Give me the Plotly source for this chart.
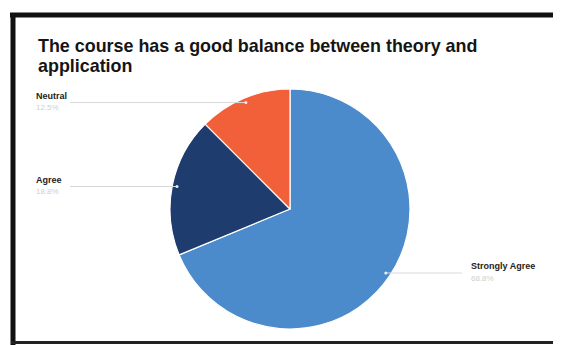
import math
import plotly.graph_objects as go

labels = ["Strongly Agree", "Agree", "Neutral"]
values = [11, 3, 2]
colors = ["#4b8bcb", "#1e3c6e", "#f2603a"]
title_lines = ["The course has a good balance between theory and", "application"]

W, H = 561, 345
OFF = 8  # page body margin offset
cx, cy, R = 290, 209, 120  # pie centre/radius in pixels

def px(x):
    return (x - OFF) / W

def py(y):
    return 1 - (y - OFF) / H

fig = go.Figure(go.Pie(
    labels=labels, values=values, sort=False, direction="clockwise", rotation=0,
    marker=dict(colors=colors, line=dict(color="white", width=1.2)),
    textinfo="none", hoverinfo="label+percent", showlegend=False,
    domain=dict(x=[px(cx - R), px(cx + R)], y=[py(cy + R), py(cy - R)]),
))

total = sum(values)
cum = 0
shapes = []
annotations = []
for lab, v in zip(labels, values):
    mid = (cum + v / 2) / total * 2 * math.pi
    cum += v
    dx = cx + 0.96 * R * math.sin(mid)
    dy = cy - 0.96 * R * math.cos(mid)
    pct = f"{100 * v / total:.1f}%"
    if dx > cx:
        tx, x1 = 469, 462
    else:
        tx, x1 = 34, 70
    shapes.append(dict(type="line", xref="paper", yref="paper",
                       x0=px(dx), x1=px(x1), y0=py(dy), y1=py(dy),
                       line=dict(color="#d8d8d8", width=1)))
    shapes.append(dict(type="circle", xref="paper", yref="paper",
                       x0=px(dx - 1.5), x1=px(dx + 1.5), y0=py(dy - 1.5), y1=py(dy + 1.5),
                       fillcolor="#e8eef5", line=dict(width=0)))
    annotations.append(dict(x=px(tx), y=py(dy - 7), xref="paper", yref="paper",
                            text=f"<b>{lab}</b>", showarrow=False, xanchor="left",
                            yanchor="middle", font=dict(size=9, color="#222",
                                                        family="Liberation Sans, Arial")))
    annotations.append(dict(x=px(tx), y=py(dy + 5), xref="paper", yref="paper",
                            text=pct, showarrow=False, xanchor="left",
                            yanchor="middle", font=dict(size=8, color="#cfcfcf",
                                                        family="Liberation Sans, Arial")))

for i, line in enumerate(title_lines):
    annotations.append(dict(x=px(36), y=py(46 + 20 * i), xref="paper", yref="paper",
                            text=f"<b>{line}</b>", showarrow=False, xanchor="left",
                            yanchor="middle", align="left",
                            font=dict(size=17.9, color="#151515",
                                      family="Liberation Sans, Arial")))

# photographed screen frame
shapes += [
    dict(type="line", xref="paper", yref="paper", x0=px(10), x1=1, y0=py(15), y1=py(15),
         line=dict(color="#111", width=5)),
    dict(type="line", xref="paper", yref="paper", x0=px(13), x1=px(13), y0=py(13), y1=0,
         line=dict(color="#111", width=5)),
    dict(type="line", xref="paper", yref="paper", x0=px(11), x1=1, y0=py(342.5), y1=py(342.5),
         line=dict(color="#222", width=3)),
    dict(type="line", xref="paper", yref="paper", x0=px(557), x1=px(557), y0=py(17), y1=py(340),
         line=dict(color="#e6e6e6", width=1)),
]

fig.update_layout(
    width=W, height=H, margin=dict(l=0, r=0, t=0, b=0),
    paper_bgcolor="white", plot_bgcolor="white",
    shapes=shapes, annotations=annotations,
)
fig.write_html("out.html")
